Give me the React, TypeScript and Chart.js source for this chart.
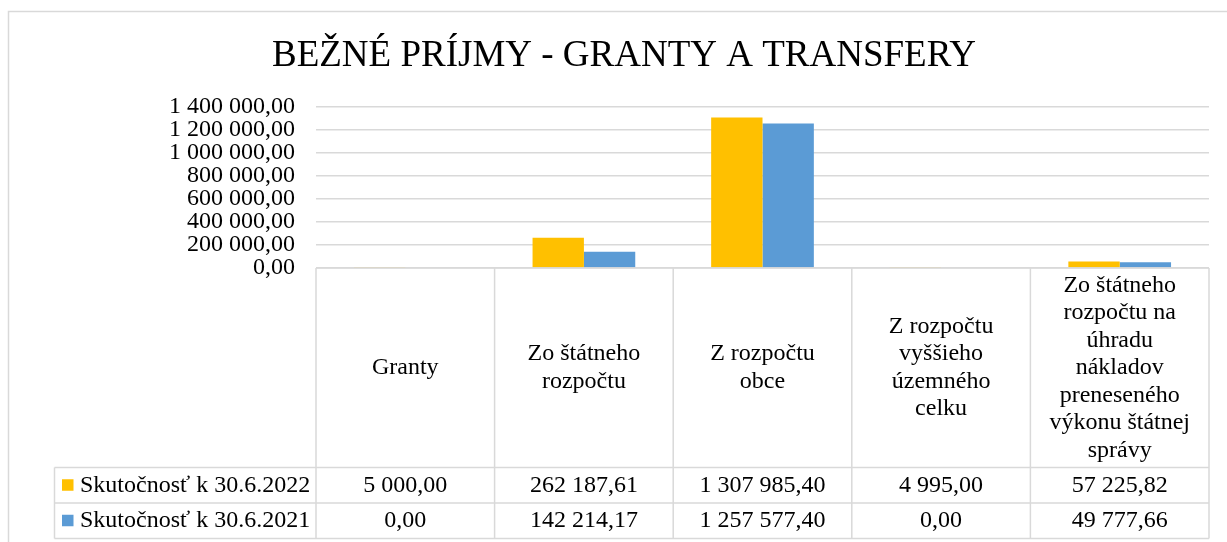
import React, { useEffect, useRef } from "react";
import { Chart, registerables } from "chart.js";

Chart.register(...registerables);

const chartTitle = "BEŽNÉ PRÍJMY - GRANTY A TRANSFERY";
const categories: string[][] = [
  ["Granty"],
  ["Zo štátneho", "rozpočtu"],
  ["Z rozpočtu", "obce"],
  ["Z rozpočtu", "vyššieho", "územného", "celku"],
  ["Zo štátneho", "rozpočtu na", "úhradu", "nákladov", "preneseného", "výkonu štátnej", "správy"],
];
const seriesLabels = ["Skutočnosť k 30.6.2022", "Skutočnosť k 30.6.2021"];
const values2022 = [5000, 262187.61, 1307985.4, 4995, 57225.82];
const values2021 = [0, 142214.17, 1257577.4, 0, 49777.66];
const seriesColors = ["#FFC000", "#5B9BD5"];
const yMax = 1400000;
const yStep = 200000;

const FONT = '"Liberation Serif", "Times New Roman", serif';
const W = 1227;
const H = 542;

function fmt(v: number): string {
  const [intPart, dec] = Math.abs(v).toFixed(2).split(".");
  const grouped = intPart.replace(/\B(?=(\d{3})+(?!\d))/g, " ");
  return (v < 0 ? "-" : "") + grouped + "," + dec;
}

const tablePlugin = {
  id: "excelTable",
  beforeDraw(chart: any) {
    const ctx = chart.ctx;
    ctx.save();
    ctx.fillStyle = "#ffffff";
    ctx.fillRect(0, 0, W, H);
    ctx.strokeStyle = "#d9d9d9";
    ctx.lineWidth = 1.5;
    ctx.strokeRect(8.5, 11.5, W + 20, H + 20);
    ctx.restore();
  },
  afterDraw(chart: any) {
    const ctx = chart.ctx;
    const area = chart.chartArea;
    const n = categories.length;
    const colW = (area.right - area.left) / n;
    const top = area.bottom;
    const headerBottom = 467.5;
    const rowH = 35.5;
    const legendLeft = 54.5;
    ctx.save();
    // title
    ctx.fillStyle = "#000";
    ctx.font = `37px ${FONT}`;
    ctx.textAlign = "center";
    ctx.textBaseline = "alphabetic";
    ctx.fillText(chartTitle, 624, 66);

    ctx.strokeStyle = "#d9d9d9";
    ctx.lineWidth = 1.5;
    ctx.beginPath();
    ctx.moveTo(area.left, top);
    ctx.lineTo(area.right, top);
    for (let r = 0; r <= seriesLabels.length; r++) {
      const y = headerBottom + r * rowH;
      ctx.moveTo(legendLeft, y);
      ctx.lineTo(area.right, y);
    }
    for (let i = 0; i <= n; i++) {
      const x = area.left + i * colW;
      ctx.moveTo(x, top);
      ctx.lineTo(x, headerBottom + seriesLabels.length * rowH);
    }
    ctx.moveTo(legendLeft, headerBottom);
    ctx.lineTo(legendLeft, headerBottom + seriesLabels.length * rowH);
    ctx.stroke();

    // header labels
    ctx.fillStyle = "#000";
    ctx.font = `24px ${FONT}`;
    ctx.textAlign = "center";
    ctx.textBaseline = "middle";
    const lineH = 27.5;
    const midHeader = (top + headerBottom) / 2;
    categories.forEach((lines, i) => {
      const cx = chart.scales.x.getPixelForValue(i);
      const startY = midHeader - ((lines.length - 1) * lineH) / 2;
      lines.forEach((ln, j) => ctx.fillText(ln, cx, startY + j * lineH));
    });

    // data rows
    const rows = [values2022, values2021];
    rows.forEach((vals, r) => {
      const cy = headerBottom + r * rowH + rowH / 2;
      ctx.fillStyle = seriesColors[r];
      ctx.fillRect(62, cy - 6, 11.5, 11.5);
      ctx.fillStyle = "#000";
      ctx.textAlign = "left";
      ctx.fillText(seriesLabels[r], 80, cy);
      ctx.textAlign = "center";
      vals.forEach((v, i) => {
        const cx = chart.scales.x.getPixelForValue(i);
        ctx.fillText(fmt(v), cx, cy);
      });
    });
    ctx.restore();
  },
};

export default function App() {
  const canvasRef = useRef<HTMLCanvasElement | null>(null);

  useEffect(() => {
    const canvas = canvasRef.current;
    if (!canvas) return;
    const chart = new Chart(canvas, {
      type: "bar",
      data: {
        labels: categories.map((c) => c.join(" ")),
        datasets: [
          {
            label: seriesLabels[0],
            data: values2022,
            backgroundColor: seriesColors[0],
            categoryPercentage: 0.575,
            barPercentage: 1,
          },
          {
            label: seriesLabels[1],
            data: values2021,
            backgroundColor: seriesColors[1],
            categoryPercentage: 0.575,
            barPercentage: 1,
          },
        ],
      },
      options: {
        responsive: false,
        animation: false,
        devicePixelRatio: 1,
        layout: { padding: { left: 0, right: 18, top: 107, bottom: H - 268 } },
        plugins: {
          legend: { display: false },
          title: { display: false },
          tooltip: { enabled: false },
        },
        scales: {
          x: { display: false },
          y: {
            min: 0,
            max: yMax,
            border: { display: false },
            grid: { color: "#d9d9d9", lineWidth: 1.5, drawTicks: false },
            ticks: {
              stepSize: yStep,
              autoSkip: false,
              padding: 21,
              color: "#000",
              font: { family: FONT, size: 24, lineHeight: 1 },
              callback: (v: any) => fmt(Number(v)),
            },
            afterFit: (scale: any) => {
              scale.width = 316;
            },
          },
        },
      },
      plugins: [tablePlugin],
    });
    return () => chart.destroy();
  }, []);

  return (
    <div style={{ position: "fixed", left: 0, top: 0, width: W, height: H, background: "#fff" }}>
      <canvas ref={canvasRef} width={W} height={H} style={{ width: W, height: H, display: "block" }} />
    </div>
  );
}
